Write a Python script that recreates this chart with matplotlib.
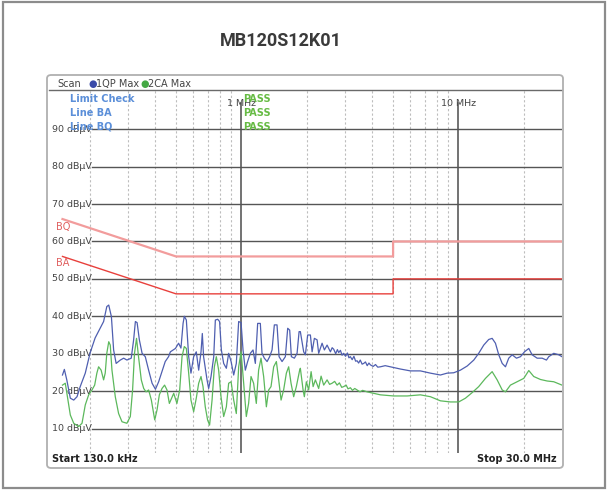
import matplotlib
matplotlib.use("Agg")
import matplotlib.pyplot as plt
from matplotlib.patches import FancyBboxPatch, Rectangle

W, H = 608, 491

title = "MB120S12K01"

# grid
level_ticks = [10, 20, 30, 40, 50, 60, 70, 80, 90]
minor_freqs = [0.2, 0.3, 0.4, 0.5, 0.6, 0.7, 0.8, 0.9, 2, 3, 4, 5, 6, 7, 8, 9, 20]
major_freqs = [1, 10]
major_labels = ["1 MHz", "10 MHz"]

# limit lines (MHz / dBuV)
limit_freq = [0.15, 0.5, 5, 5, 30]
limit_bq = [66, 56, 56, 60, 60]
limit_ba = [56, 46, 46, 50, 50]

# trace 1: QP max
qp_freq = [0.150, 0.153, 0.157, 0.163, 0.169, 0.175, 0.181, 0.191, 0.201, 0.212,
           0.224, 0.232, 0.240, 0.245, 0.252, 0.258, 0.265, 0.277, 0.287, 0.297,
           0.311, 0.319, 0.325, 0.331, 0.339, 0.349, 0.361, 0.374, 0.388, 0.402,
           0.416, 0.431, 0.446, 0.462, 0.471, 0.497, 0.514, 0.527, 0.539, 0.546,
           0.558, 0.572, 0.586, 0.603, 0.620, 0.636, 0.652, 0.661, 0.670, 0.695,
           0.707, 0.725, 0.746, 0.759, 0.778, 0.794, 0.809, 0.829, 0.853, 0.874,
           0.897, 0.922, 0.948, 0.972, 0.997, 1.018, 1.043, 1.069, 1.100, 1.132,
           1.160, 1.189, 1.223, 1.245, 1.276, 1.314, 1.350, 1.385, 1.419, 1.460,
           1.492, 1.540, 1.595, 1.635, 1.670, 1.700, 1.755, 1.806, 1.845, 1.870,
           1.937, 1.972, 2.021, 2.080, 2.118, 2.170, 2.233, 2.271, 2.355, 2.413,
           2.483, 2.572, 2.62, 2.663, 2.72, 2.77, 2.808, 2.86, 2.91, 2.961,
           3.02, 3.08, 3.13, 3.179, 3.24, 3.30, 3.36, 3.414, 3.47, 3.53,
           3.60, 3.662, 3.73, 3.80, 3.87, 3.932, 4.05, 4.15, 4.25, 4.372,
           4.6, 4.860, 5.404, 6.009, 6.682, 7.430, 8.262, 8.870, 9.513, 10.21,
           10.97, 11.77, 12.40, 13.08, 13.79, 14.30, 14.81, 15.34, 15.91, 16.47,
           17.05, 17.68, 18.51, 19.31, 20.15, 21.09, 21.86, 23.05, 24.30, 25.44,
           26.07, 27.49, 28.99, 30.0]
qp_level = [24.3, 25.8, 23.0, 18.1, 17.6, 18.5, 21.2, 24.8, 30.2, 34.2,
            36.9, 38.6, 42.6, 43.0, 39.9, 31.0, 27.4, 28.3, 28.8, 28.3,
            28.8, 33.7, 38.6, 38.3, 33.7, 30.1, 29.2, 25.6, 22.1, 20.5,
            22.5, 25.2, 27.9, 29.2, 30.5, 31.4, 32.8, 31.5, 38.1, 40.0,
            39.0, 29.2, 24.8, 29.2, 30.5, 25.6, 30.5, 35.4, 29.2, 23.0,
            20.7, 23.9, 29.2, 39.0, 39.2, 38.6, 31.0, 27.4, 26.1, 30.1,
            27.9, 24.3, 27.4, 38.6, 38.3, 31.0, 25.6, 27.9, 30.1, 31.0,
            27.4, 38.1, 38.1, 30.1, 28.8, 27.9, 29.2, 31.0, 37.7, 37.7,
            29.2, 27.9, 29.2, 36.8, 36.3, 29.2, 28.8, 30.1, 35.9, 35.9,
            30.5, 29.7, 35.0, 35.0, 30.5, 34.1, 33.7, 30.1, 32.8, 31.0,
            32.3, 30.5, 31.6, 31.2, 30.0, 31.1, 30.3, 30.9, 29.6, 30.1,
            29.3, 30.2, 28.9, 29.2, 28.4, 29.3, 28.0, 28.1, 27.5, 28.3,
            27.2, 27.4, 27.8, 26.8, 27.5, 27.0, 26.6, 27.1, 26.4, 26.5,
            26.8, 26.5, 25.9, 25.4, 25.4, 24.8, 24.3, 24.8, 24.9, 25.6,
            26.7, 28.3, 30.1, 32.3, 33.8, 34.1, 32.8, 29.7, 27.4, 26.5,
            28.8, 29.7, 28.8, 29.2, 30.5, 31.4, 29.7, 28.8, 28.8, 28.3,
            29.2, 30.1, 29.7, 29.2]

# trace 2: CA max
ca_freq = [0.150, 0.1545, 0.159, 0.163, 0.169, 0.178, 0.1845, 0.191, 0.198, 0.205,
           0.211, 0.216, 0.220, 0.226, 0.232, 0.236, 0.240, 0.245, 0.249, 0.2535,
           0.2626, 0.272, 0.282, 0.297, 0.308, 0.3155, 0.322, 0.329, 0.336, 0.346,
           0.355, 0.364, 0.374, 0.385, 0.399, 0.409, 0.419, 0.431, 0.443, 0.4545,
           0.466, 0.488, 0.505, 0.520, 0.533, 0.546, 0.558, 0.572, 0.586, 0.603,
           0.620, 0.636, 0.652, 0.666, 0.682, 0.699, 0.714, 0.733, 0.751, 0.767,
           0.786, 0.806, 0.829, 0.853, 0.874, 0.897, 0.922, 0.948, 0.972, 0.997,
           1.025, 1.054, 1.080, 1.108, 1.139, 1.172, 1.201, 1.232, 1.267, 1.304,
           1.336, 1.370, 1.409, 1.450, 1.486, 1.524, 1.566, 1.612, 1.652, 1.694,
           1.742, 1.792, 1.856, 1.870, 1.925, 1.951, 1.993, 2.042, 2.096, 2.141,
           2.193, 2.271, 2.330, 2.395, 2.483, 2.55, 2.618, 2.69, 2.761, 2.83,
           2.90, 2.961, 3.04, 3.10, 3.179, 3.25, 3.33, 3.414, 3.52, 3.62,
           3.796, 4.372, 5.032, 5.801, 6.682, 7.430, 8.262, 9.187, 10.03, 10.77,
           11.57, 12.40, 13.32, 14.30, 15.08, 15.91, 16.47, 17.36, 18.64, 20.00,
           21.09, 22.23, 23.88, 25.64, 27.49, 30.0]
ca_level = [21.6, 22.1, 17.6, 13.6, 11.4, 10.5, 11.4, 16.3, 19.0, 20.3,
            21.6, 24.8, 26.5, 25.6, 23.0, 24.8, 30.1, 33.2, 32.3, 25.6,
            18.5, 14.0, 11.8, 11.4, 13.2, 20.3, 30.1, 34.1, 29.2, 23.0,
            20.7, 19.8, 20.3, 17.6, 12.3, 15.0, 19.0, 20.7, 21.6, 20.3,
            16.7, 19.4, 16.7, 20.3, 29.2, 31.9, 31.4, 24.8, 17.6, 14.5,
            18.1, 22.1, 23.9, 21.2, 15.8, 12.3, 10.9, 17.6, 26.5, 29.2,
            25.6, 18.5, 13.2, 15.8, 22.1, 22.5, 17.6, 14.0, 26.5, 30.5,
            22.1, 13.2, 16.7, 23.9, 22.1, 16.7, 25.6, 28.8, 23.9, 15.8,
            20.3, 21.2, 26.5, 27.9, 23.0, 17.6, 20.3, 24.8, 26.5, 22.1,
            18.5, 21.2, 25.6, 26.1, 20.3, 18.5, 22.5, 20.3, 25.2, 21.2,
            23.0, 20.7, 24.0, 21.6, 23.0, 21.8, 22.1, 22.6, 21.6, 22.2,
            21.0, 21.2, 21.6, 20.6, 20.9, 20.2, 20.7, 20.3, 19.8, 20.2,
            19.8, 19.0, 18.7, 18.7, 19.0, 18.5, 17.4, 17.1, 17.1, 18.1,
            19.6, 21.2, 23.4, 25.2, 23.0, 20.3, 19.8, 21.6, 22.5, 23.4,
            25.5, 23.9, 23.1, 22.7, 22.5, 21.6]

BLUE = "#4f5fb0"
GREEN = "#5cb85c"
TXT_BLUE = "#5b8fd9"
PASS_GREEN = "#66bb44"


def fx(px):
    return px / W


def fy(py):
    return 1 - py / H


fig = plt.figure(figsize=(W / 100, H / 100), dpi=100)
fig.patch.set_facecolor("white")

# outer frame and inner panel
fig.patches.append(Rectangle((fx(3), fy(488)), fx(602), 486 / H, transform=fig.transFigure,
                             fill=False, edgecolor="#8c8c8c", linewidth=1.6))
fig.patches.append(FancyBboxPatch((fx(47), fy(468)), fx(516), 393 / H,
                                  boxstyle="round,pad=0,rounding_size=0.007",
                                  transform=fig.transFigure, fill=False,
                                  edgecolor="#b0b0b0", linewidth=1.3))

fig.text(fx(281), fy(41), title, ha="center", va="center", fontsize=13,
         fontweight="bold", color="#3a3a3a", family=["Roboto", "DejaVu Sans"])

ax = fig.add_axes([fx(49), fy(453), 513 / W, 363 / H])
ax.set_xscale("log")
ax.set_xlim(0.13, 30)
ax.set_ylim(3.45, 100.5)
ax.set_xticks([])
ax.set_yticks([])
ax.minorticks_off()
for s in ["left", "right", "bottom"]:
    ax.spines[s].set_visible(False)
ax.spines["top"].set_color("#6a6a6a")
ax.spines["top"].set_linewidth(1.0)

for f in minor_freqs:
    ax.axvline(f, color="#bdbdbd", linewidth=0.8, linestyle=(0, (2, 2)), zorder=1)
for f in major_freqs:
    ax.axvline(f, ymin=0, ymax=0.964, color="#5a5a5a", linewidth=1.2, zorder=1)
for lv in level_ticks:
    ax.axhline(lv, xmin=0.084, color="#555555", linewidth=1.0, zorder=1)
    ax.text(0.006, lv, f"{lv} dBµV", transform=ax.get_yaxis_transform(),
            ha="left", va="center", fontsize=6.8, color="#444444", zorder=3)

ax.plot(limit_freq, limit_bq, color="#f29c9c", linewidth=1.6, zorder=2)
ax.plot(limit_freq, limit_ba, color="#e8403c", linewidth=1.0, zorder=2)

ax.plot(ca_freq, ca_level, color=GREEN, linewidth=0.9, zorder=4)
ax.plot(qp_freq, qp_level, color=BLUE, linewidth=0.9, zorder=5)

# header strip
fig.text(fx(57), fy(84), "Scan", ha="left", va="center", fontsize=7, color="#444444")
fig.text(fx(92.5), fy(84), "●", ha="center", va="center", fontsize=7, color="#3a4aa8")
fig.text(fx(96.5), fy(84), "1QP Max", ha="left", va="center", fontsize=7, color="#444444")
fig.text(fx(144.5), fy(84), "●", ha="center", va="center", fontsize=7, color="#44a844")
fig.text(fx(148.5), fy(84), "2CA Max", ha="left", va="center", fontsize=7, color="#444444")

# limit check block
for i, s in enumerate(["Limit Check", "Line BA", "Line BQ"]):
    y = 98.5 + i * 14
    fig.text(fx(70), fy(y), s, ha="left", va="center", fontsize=7, fontweight="bold",
             color=TXT_BLUE)
    fig.text(fx(243), fy(y), "PASS", ha="left", va="center", fontsize=7,
             fontweight="bold", color=PASS_GREEN)

for f, lab in zip(major_freqs, major_labels):
    ax.text(f, 0.962, lab, transform=ax.get_xaxis_transform(), ha="center", va="center",
            fontsize=6.8, color="#444444")

fig.text(fx(56), fy(227), "BQ", ha="left", va="center", fontsize=7, color="#e06060")
fig.text(fx(56), fy(263), "BA", ha="left", va="center", fontsize=7, color="#e06060")

fig.text(fx(52), fy(459), "Start 130.0 kHz", ha="left", va="center", fontsize=7,
         fontweight="bold", color="#222222")
fig.text(fx(557), fy(459), "Stop 30.0 MHz", ha="right", va="center", fontsize=7,
         fontweight="bold", color="#222222")

fig.savefig("out.png", dpi=100)
